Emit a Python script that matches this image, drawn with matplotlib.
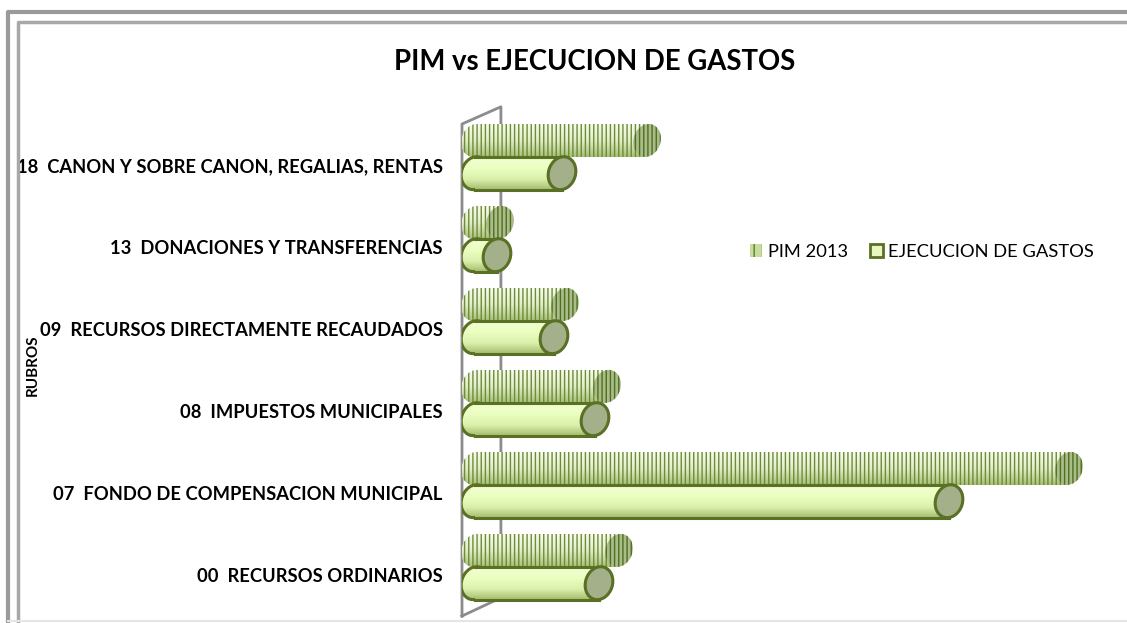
import numpy as np
import matplotlib
matplotlib.use('Agg')
import matplotlib.pyplot as plt
from matplotlib.patches import Ellipse, Patch
from matplotlib.lines import Line2D
from matplotlib.colors import LinearSegmentedColormap
from matplotlib.transforms import ScaledTranslation

# datos (soles)
rubros = ['00  RECURSOS ORDINARIOS',
          '07  FONDO DE COMPENSACION MUNICIPAL',
          '08  IMPUESTOS MUNICIPALES',
          '09  RECURSOS DIRECTAMENTE RECAUDADOS',
          '13  DONACIONES Y TRANSFERENCIAS',
          '18  CANON Y SOBRE CANON, REGALIAS, RENTAS']
pim_2013 = [1440000, 5940000, 1320000, 900000, 250000, 1720000]
ejecucion = [1240000, 4740000, 1200000, 790000, 220000, 870000]

plt.rcParams['font.family'] = ['Lato', 'DejaVu Sans']
plt.rcParams['hatch.linewidth'] = 1.0

W, H = 1127, 623
fig = plt.figure(figsize=(W / 100, H / 100), dpi=100)
ax = fig.add_axes([462 / W, 1 - 616 / H, 638 / W, 492 / H])
ax.set_xlim(-130000, 6250000)
ax.set_ylim(-0.5, 5.5)

h = 0.4
ew, eh, ang = 0.27, 0.335, -18   # tapa eliptica (pulgadas)
capx = 300000

ejec_cmap = LinearSegmentedColormap.from_list('ej', ['#f2fdd2', '#eaffc0', '#dcf0ac', '#a3bc6e'])
pim_cmap = LinearSegmentedColormap.from_list('pim', ['#f8fbf0', '#e2eecb', '#a8c078'])
grad = np.linspace(0, 1, 60).reshape(-1, 1)

# pared lateral 3d
ax.plot([0, 0, 0.061, 0.061, 0], [0, 1.0, 1.035, 0.037, 0], transform=ax.transAxes,
        color='#8c8c8c', lw=2, clip_on=False, zorder=1)


def tapa(x, y, **kw):
    tr = fig.dpi_scale_trans + ScaledTranslation(x, y, ax.transData)
    e = Ellipse((0, 0), ew, eh, angle=ang, transform=tr, **kw)
    ax.add_patch(e)
    return e


def relleno(patch, x0, x1, y, cmap, z):
    img = ax.imshow(grad, extent=(x0, x1, y - h / 2, y + h / 2), aspect='auto',
                    cmap=cmap, zorder=z)
    img.set_clip_path(patch)


def cilindro(y, v, cmap, cap_face, edge, lw, hatch_body=None, hatch_cap=None, z=2):
    left = tapa(0, y, facecolor='none', edgecolor=edge, lw=lw, hatch=hatch_body, zorder=z + 0.1)
    relleno(left, -capx, capx, y, cmap, z)
    bar = ax.barh(y, v, height=h, left=0, color='none', lw=0, zorder=z + 0.5)[0]
    relleno(bar, 0, v, y, cmap, z + 0.5)
    if hatch_body:
        ax.barh(y, v, height=h, left=0, facecolor='none', edgecolor=edge, lw=0,
                hatch=hatch_body, zorder=z + 0.6)
    else:
        ax.plot([0, v], [y + h / 2] * 2, color=edge, lw=lw, zorder=z + 0.7)
        ax.plot([0, v], [y - h / 2] * 2, color=edge, lw=lw, zorder=z + 0.7)
    tapa(v, y, facecolor=cap_face, edgecolor='#4f6e1f' if hatch_cap else edge,
         lw=lw if not hatch_cap else 0, hatch=hatch_cap, zorder=z + 1)


for i in range(len(rubros)):
    cilindro(i + 0.3, pim_2013[i], pim_cmap, '#a9bc8a', '#6d8c34', 0,
             hatch_body='||||', hatch_cap='||||', z=2)
    cilindro(i - 0.1, ejecucion[i], ejec_cmap, '#a4b08a', '#5a7024', 2.2, z=5)

ax.set_xlim(-130000, 6250000)
ax.set_ylim(-0.5, 5.5)
ax.set_xticks([])
ax.set_yticks(range(len(rubros)))
ax.set_yticklabels(rubros, fontweight='bold', fontsize=13.2)
ax.tick_params(axis='y', length=0, pad=14)
for s in ax.spines.values():
    s.set_visible(False)

fig.text(33 / W, 1 - 365 / H, 'RUBROS', rotation=90, fontsize=11, fontweight='bold',
         ha='center', va='center')
fig.text(595 / W, 1 - 62 / H, 'PIM vs EJECUCION DE GASTOS', fontsize=19.8,
         fontweight='bold', ha='center', va='center')

handles = [Patch(facecolor='#c8dca0', edgecolor='#5f7f28', hatch='||', lw=0),
           Patch(facecolor='#e8f7c0', edgecolor='#5a7024', lw=2)]
fig.legend(handles, ['PIM 2013', 'EJECUCION DE GASTOS'], loc='center left',
           bbox_to_anchor=(733 / W, 1 - 252 / H), ncol=2, frameon=False,
           fontsize=13.2, handlelength=0.7, handleheight=0.7, handletextpad=0.3,
           columnspacing=1.2)

# marco
for x0, y0, c, lw in [(8, 12, '#9a9a9a', 3), (18, 22, '#a8a8a8', 2.5)]:
    fig.add_artist(Line2D([x0 / W, x0 / W, 1.0], [1 - 621 / H, 1 - y0 / H, 1 - y0 / H],
                          color=c, lw=lw))
fig.add_artist(Line2D([8 / W, 1.0], [1 - 621 / H] * 2, color='#e6e6e6', lw=1.5))

fig.savefig('out.png', dpi=100)
